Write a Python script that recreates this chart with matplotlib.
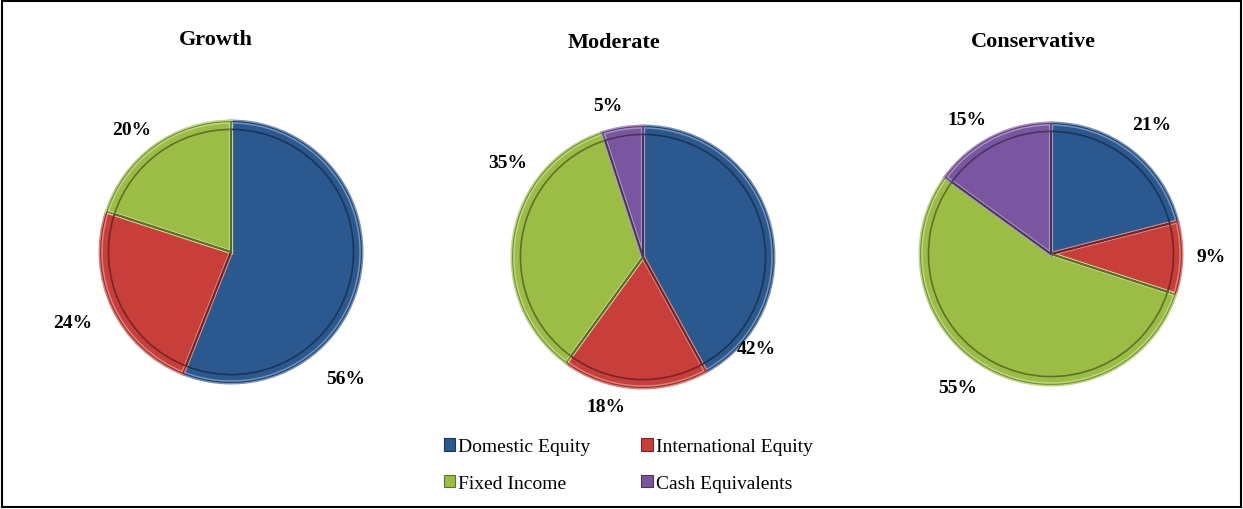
import numpy as np
import matplotlib.pyplot as plt
from matplotlib.patches import Rectangle
import matplotlib.colors as mcolors

# data
portfolios = ['Growth', 'Moderate', 'Conservative']
categories = ['Domestic Equity', 'International Equity', 'Fixed Income', 'Cash Equivalents']
growth = [56, 24, 20, 0]
moderate = [42, 18, 35, 5]
conservative = [21, 9, 55, 15]
allocations = [growth, moderate, conservative]

colors = ['#2B588F', '#C83E3A', '#9BBD45', '#7A56A0']

# layout: label positions (radius multiple, angle in degrees) per slice
label_pos = [
    [(1.31, -48), (1.33, 204), (1.21, 129), None],
    [(1.12, -39), (1.18, -104), (1.27, 145), (1.19, 103)],
    [(1.26, 52), (1.23, -1), (1.25, -125), (1.22, 122)],
]
centers_px = [(231, 253), (643, 258), (1051, 255)]
title_px = [(216, 40), (614, 43), (1033, 42)]
r_px = 133
W, H = 1243, 510

plt.rcParams['font.family'] = ['Liberation Serif', 'DejaVu Serif']
fig = plt.figure(figsize=(W / 100, H / 100), dpi=100)


def shade(c, f=0.7):
    rgb = np.array(mcolors.to_rgb(c))
    if f > 1:
        return tuple(rgb + (1 - rgb) * (f - 1))
    return tuple(rgb * f)


for i, vals in enumerate(allocations):
    cx, cy = centers_px[i]
    ax = fig.add_axes([(cx - r_px) / W, 1 - (cy + r_px) / H, 2 * r_px / W, 2 * r_px / H])
    v = [x for x in vals if x > 0]
    cols = [colors[k] for k, x in enumerate(vals) if x > 0]
    wedges, _ = ax.pie(v, colors=cols, startangle=90, counterclock=False,
                       wedgeprops=dict(linewidth=3))
    for w, c in zip(wedges, cols):
        w.set_edgecolor(shade(c, 1.35))
    # bevel look: thin dark outline outside and inner rim
    outer, _ = ax.pie(v, colors=['none'] * len(v), startangle=90, counterclock=False,
                      radius=1.0, wedgeprops=dict(linewidth=0.8, fill=False))
    for w, c in zip(outer, cols):
        w.set_edgecolor(shade(c, 0.75))
    inner, _ = ax.pie(v, colors=['none'] * len(v), startangle=90, counterclock=False,
                      radius=0.94, wedgeprops=dict(linewidth=1.2, fill=False))
    for w, c in zip(inner, cols):
        w.set_edgecolor(shade(c, 0.6))
    ax.set_xlim(-1.02, 1.02)
    ax.set_ylim(-1.02, 1.02)
    ax.set_aspect('equal')

    for k, x in enumerate(vals):
        if x <= 0:
            continue
        d, a = label_pos[i][k]
        ax.text(d * np.cos(np.radians(a)), d * np.sin(np.radians(a)), f'{x}%',
                ha='center', va='center', fontsize=14, fontweight='bold', clip_on=False)

    tx, ty = title_px[i]
    fig.text(tx / W, 1 - ty / H, portfolios[i], ha='center', va='center',
             fontsize=16, fontweight='bold')

# legend (row-major order: reorder for matplotlib's column filling)
handles = [Rectangle((0, 0), 1, 1, facecolor=c, edgecolor=shade(c, 0.6), linewidth=0.8) for c in colors]
order = [0, 2, 1, 3]
fig.legend([handles[k] for k in order], [categories[k] for k in order], ncol=2, loc='center',
           bbox_to_anchor=(628 / W, 1 - 466 / H),
           frameon=False, fontsize=14, handlelength=0.6, handleheight=0.6,
           handletextpad=0.15, columnspacing=2.6, labelspacing=1.0)

# outer frame
fig.patches.append(Rectangle((0.002, 0.003), 0.996, 0.994, transform=fig.transFigure,
                             fill=False, edgecolor='black', linewidth=1.5))

fig.savefig('out.png', dpi=100)
